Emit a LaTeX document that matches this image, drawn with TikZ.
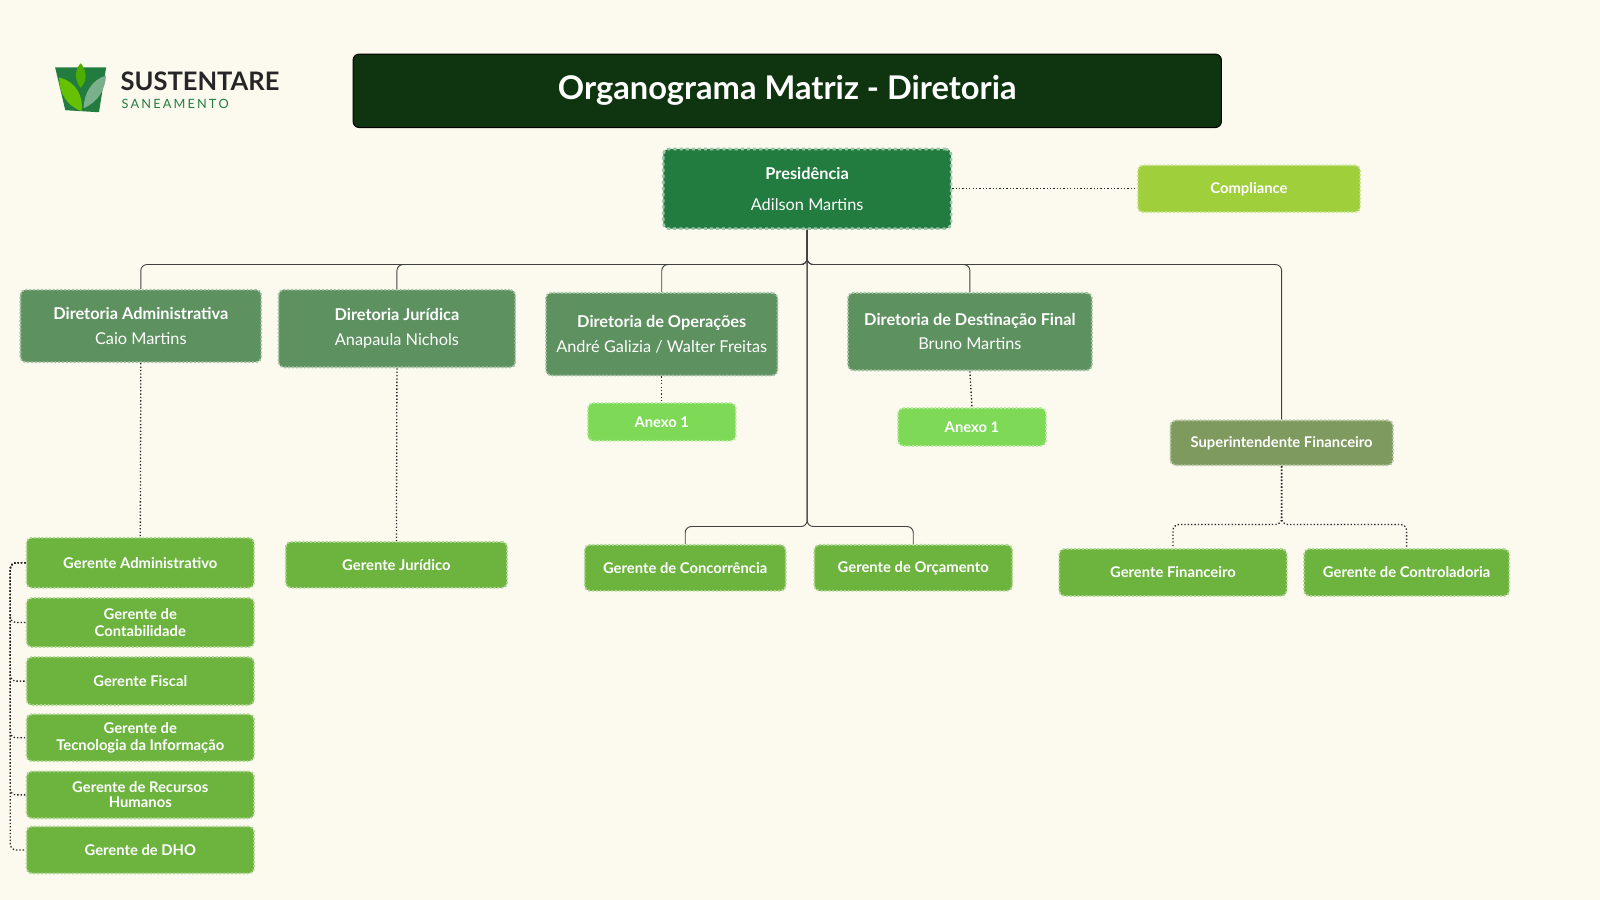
\documentclass[tikz,border=0pt]{standalone}
\usepackage{fontspec}
\setmainfont{Lato}
\usetikzlibrary{positioning}
\definecolor{bgcol}{HTML}{FCFAEF}
\definecolor{titlecol}{HTML}{0F3510}
\definecolor{prescol}{HTML}{237C3F}
\definecolor{dircol}{HTML}{5E9160}
\definecolor{gercol}{HTML}{6DB43F}
\definecolor{anexocol}{HTML}{7ED957}
\definecolor{compcol}{HTML}{A0CF3C}
\definecolor{supcol}{HTML}{7F9A5E}
\tikzset{
  box/.style={rounded corners=5pt,text=white,align=center,inner sep=2pt,line width=1.8pt,dotted},
  dir/.style={box,fill=dircol,draw=dircol!55!white,font=\fontsize{16}{24}\selectfont},
  ger/.style={box,fill=gercol,draw=gercol!55!white,font=\fontsize{14.5}{17}\selectfont\bfseries},
  solidline/.style={draw=black!75,line width=0.9pt,rounded corners=6pt},
  dotline/.style={draw=black!85,line width=1.3pt,dotted,rounded corners=6pt},
}
\begin{document}
\begin{tikzpicture}[x=1pt,y=-1pt]
\fill[bgcol] (0,0) rectangle (1568,882);
\useasboundingbox (0,0) rectangle (1568,882);
% logo
\fill[prescol] (54,66) -- (104,66) -- (97,110) -- (64,108) -- cycle;
\fill[green!60!black!60!yellow] (58,76) .. controls (75,80) and (82,95) .. (80,109) .. controls (66,104) and (58,92) .. (58,76);
\fill[prescol!60!white] (104,74) .. controls (90,78) and (82,92) .. (82,106) .. controls (96,100) and (103,88) .. (104,74);
\fill[green!55!black!70!yellow] (79,62) .. controls (72,70) and (74,80) .. (79,86) .. controls (85,80) and (86,70) .. (79,62);
\node[anchor=west,font=\fontsize{25}{25}\selectfont\bfseries,text=black!85,inner sep=0] (logo) at (118,80) {SUSTENTARE};
\node[anchor=west,font=\fontsize{12.5}{13}\selectfont,text=prescol,inner sep=0] (logosub) at (119,102) {S\,A\,N\,E\,A\,M\,E\,N\,T\,O};
% title
\node[fill=titlecol,draw=black,line width=1pt,rounded corners=6pt,minimum width=851,minimum height=72,text=white,font=\fontsize{32}{32}\selectfont\bfseries] (title) at (771.5,89) {Organograma Matriz - Diretoria};
% top
\node[box,fill=prescol,draw=prescol!45!white,dashed,line width=2.5pt,minimum width=282,minimum height=78,font=\fontsize{16}{30}\selectfont] (pres) at (791,185) {\textbf{Presidência}\\Adilson Martins};
\node[box,fill=compcol,draw=compcol!55!white,minimum width=218,minimum height=46,font=\fontsize{14.5}{17}\selectfont\bfseries] (comp) at (1224,185) {Compliance};
% diretorias
\node[dir,minimum width=236,minimum height=71] (adm) at (138,319.5) {\textbf{Diretoria Administrativa}\\Caio Martins};
\node[dir,minimum width=232,minimum height=76] (jur) at (389,322) {\textbf{Diretoria Jurídica}\\Anapaula Nichols};
\node[dir,minimum width=227,minimum height=81] (oper) at (648.5,327.5) {\textbf{Diretoria de Operações}\\André Galizia / Walter Freitas};
\node[dir,minimum width=239,minimum height=76] (dest) at (950.5,325) {\textbf{Diretoria de Destinação Final}\\Bruno Martins};
\node[box,fill=anexocol,draw=anexocol!55!white,minimum width=145,minimum height=37,font=\fontsize{14.5}{17}\selectfont\bfseries] (anx1) at (648.5,413.5) {Anexo 1};
\node[box,fill=anexocol,draw=anexocol!55!white,minimum width=145,minimum height=37,font=\fontsize{14.5}{17}\selectfont\bfseries] (anx2) at (952.5,418.5) {Anexo 1};
\node[box,fill=supcol,draw=supcol!55!white,minimum width=218,minimum height=44,font=\fontsize{14.5}{17}\selectfont\bfseries] (sup) at (1256,434) {Superintendente Financeiro};
% gerentes
\node[ger,minimum width=223,minimum height=49] (gadm) at (137.5,551.5) {Gerente Administrativo};
\node[ger,minimum width=223,minimum height=48] (gcont) at (137.5,610) {Gerente de\\Contabilidade};
\node[ger,minimum width=223,minimum height=47] (gfis) at (137.5,667.5) {Gerente Fiscal};
\node[ger,minimum width=223,minimum height=46] (gti) at (137.5,723) {Gerente de\\Tecnologia da Informação};
\node[ger,minimum width=223,minimum height=46] (grh) at (137.5,779) {Gerente de Recursos\\[-2pt]Humanos};
\node[ger,minimum width=223,minimum height=46] (gdho) at (137.5,833) {Gerente de DHO};
\node[ger,minimum width=217,minimum height=45] (gjur) at (388.5,553.5) {Gerente Jurídico};
\node[ger,minimum width=197,minimum height=45] (gconc) at (671.5,556.5) {Gerente de Concorrência};
\node[ger,minimum width=194,minimum height=45] (gorc) at (895,556.5) {Gerente de Orçamento};
\node[ger,minimum width=223,minimum height=46] (gfin) at (1149.5,561) {Gerente Financeiro};
\node[ger,minimum width=201,minimum height=46] (gctr) at (1378.5,561) {Gerente de Controladoria};
% solid links
\foreach \d in {adm,jur,oper,dest,sup}
  \draw[solidline] (pres.south) -- ++(0,34) -| (\d.north);
\foreach \g in {gconc,gorc}
  \draw[solidline] (pres.south) -- (791,516) -| (\g.north);
% dotted links
\draw[dotline] (pres.east) -- (comp.west);
\draw[dotline] (adm.south) -- (gadm.north);
\draw[dotline] (jur.south) -- (gjur.north);
\draw[dotline] (oper.south) -- (anx1.north);
\draw[dotline] (dest.south) -- (anx2.north);
\foreach \g in {gfin,gctr}
  \draw[dotline] (sup.south) -- (1256,514) -| (\g.north);
\foreach \g in {gcont,gfis,gti,grh,gdho}
  \draw[dotline] (gadm.west) -| (10,600) |- (\g.west);
\end{tikzpicture}
\end{document}
